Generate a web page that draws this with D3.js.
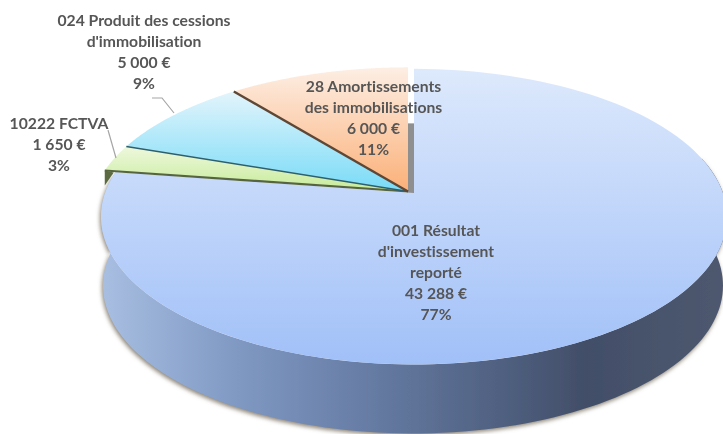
<!DOCTYPE html>
<html><head><meta charset="utf-8">
<script src="https://cdnjs.cloudflare.com/ajax/libs/d3/7.8.5/d3.min.js"></script>
<style>html,body{margin:0;padding:0;background:#fff;overflow:hidden}svg{display:block}</style>
</head><body>
<svg id="c" width="723" height="434"></svg>
<script>
const categories = ["001 Résultat|d'investissement|reporté", "10222 FCTVA", "024 Produit des cessions|d'immobilisation", "28 Amortissements|des immobilisations"];
const values = [43288, 1650, 5000, 6000];
const sliceColors = [["#dde9fc","#a1c0f8"],["#eef8dd","#c6eb98"],["#e3f4fc","#78dbf7"],["#fdeee4","#fbb078"]];
const edgeColors = [null,"#56653f","#2f5f6e","#5e4636"];
const labelPos = [[436,230],[59,123],[144,20],[373.5,86]];
const labelGap = 20.9;
const leaders = [null,[[116,158],[108,130]],[[174,113],[162,98],[152,98]],null];

const svg = d3.select("#c");
const defs = svg.append("defs");
const soft = defs.append("filter").attr("id","soft").attr("x","-5%").attr("y","-5%").attr("width","110%").attr("height","110%");
soft.append("feGaussianBlur").attr("stdDeviation",0.55);
const shadowF = defs.append("filter").attr("id","shadow").attr("x","-10%").attr("y","-10%").attr("width","120%").attr("height","120%");
shadowF.append("feGaussianBlur").attr("stdDeviation",2);

// perspective projection of a tilted disc
const tilt = 0.16, sy = 144;
function projector(ax, ay, R){
  const px = d3.scaleLinear().domain([0,1]).range([ax, ax+R]);
  const py = d3.scaleLinear().domain([0,1]).range([ay, ay-sy]);
  return (a, r=1) => {
    const w = 1 + tilt*Math.cos(a)*r;
    return [px(r*Math.sin(a)/w), py(r*Math.cos(a)/w)];
  };
}
const line = d3.line();
const pie = d3.pie().sort(null)(values);
const total = d3.sum(values);
const arcPts = (p,a0,a1) => d3.range(0,121).map(i => p(a0+(a1-a0)*i/120));

const root = svg.append("g").attr("filter","url(#soft)");

const pMain = projector(414,193,309);
const pRest = projector(408,191.5,314);
const depth = 69;
const pLow = projector(413,193+depth,306);

// side of the large slice
const a0 = Math.PI*0.42, a1 = Math.min(pie[0].endAngle, Math.PI*1.55);
const sidePts = arcPts(pMain,a0,a1).concat(arcPts(pLow,a0,a1).reverse());
const sideG = defs.append("linearGradient").attr("id","side").attr("gradientUnits","userSpaceOnUse")
  .attr("x1",100).attr("x2",723).attr("y1",0).attr("y2",0);
[[0,"#a9bfe2"],[0.22,"#7f99c3"],[0.4,"#6a80a9"],[0.6,"#546688"],[0.78,"#424e68"],[1,"#4e596f"]]
  .forEach(s=>sideG.append("stop").attr("offset",s[0]).attr("stop-color",s[1]));

root.append("path").attr("d",line(arcPts(pLow,a0,a1).concat(arcPts(pMain,a1,a0))))
  .attr("transform","translate(-1,2)").attr("fill","#8d8578").attr("filter","url(#shadow)");
root.append("path").attr("d",line(sidePts)+"Z").attr("fill","url(#side)");

// grey wall behind the detached slices
const wallX = pRest(pie[3].endAngle)[0];
root.append("path").attr("d",line([[wallX,pRest(0)[1]+56],[wallX+6,pRest(0)[1]+56],[wallX+6,pRest(0,0)[1]+2],[wallX,pRest(0,0)[1]+2]])+"Z")
  .attr("fill","#8f8f8f");

// top faces
pie.forEach((d,i)=>{
  const p = i===0 ? pMain : pRest;
  const pts = arcPts(p,d.startAngle,d.endAngle);
  const apex = i===0 ? [pRest(0,0)[0]+6,p(0,0)[1]] : p(0,0);
  const ys = pts.map(q=>q[1]).concat(apex[1]);
  const id = "g"+i;
  const g = defs.append("linearGradient").attr("id",id).attr("gradientUnits","userSpaceOnUse")
    .attr("x1",0).attr("x2",0).attr("y1",d3.min(ys)).attr("y2",d3.max(ys));
  g.append("stop").attr("offset",0).attr("stop-color",sliceColors[i][0]);
  g.append("stop").attr("offset",1).attr("stop-color",sliceColors[i][1]);
  if(i===1){
    // small dark end of the thin slice
    const e = p(d.startAngle);
    root.append("path").attr("d",line([e,[e[0],e[1]+15],[e[0]+9,e[1]+2]])+"Z").attr("fill","#5c6b42");
  }
  root.append("path").attr("d",line([apex].concat(pts))+"Z").attr("fill","url(#"+id+")");
});
// slice edges
pie.forEach((d,i)=>{
  if(!edgeColors[i]) return;
  const p = pRest;
  root.append("path").attr("d",line([p(d.startAngle),p(0,0)]))
    .attr("stroke",edgeColors[i]).attr("stroke-width",i===3?2.4:i===1?2.2:1.4).attr("fill","none");
});
// leader lines
leaders.forEach(l=>{ if(l) root.append("path").attr("d",line(l)).attr("fill","none").attr("stroke","#a6a6a6").attr("stroke-width",1.2); });

// labels
const euro = d3.formatLocale({decimal:",",thousands:" ",grouping:[3],currency:[""," €"]}).format(",");
const pct = d3.format(".0%");
const labels = svg.append("g").attr("filter","url(#soft)");
categories.forEach((c,i)=>{
  const rows = c.split("|").concat([euro(values[i])+" €", pct(values[i]/total)]);
  rows.forEach((r,j)=>{
    labels.append("text").attr("x",labelPos[i][0]).attr("y",labelPos[i][1]+j*labelGap)
      .attr("text-anchor","middle").attr("dominant-baseline","central")
      .attr("font-family","Lato, 'Open Sans', sans-serif").attr("font-weight",700)
      .style("font-variant-ligatures","none")
      .attr("font-size",15.7).attr("fill","#565656").text(r);
  });
});
</script>
</body></html>
